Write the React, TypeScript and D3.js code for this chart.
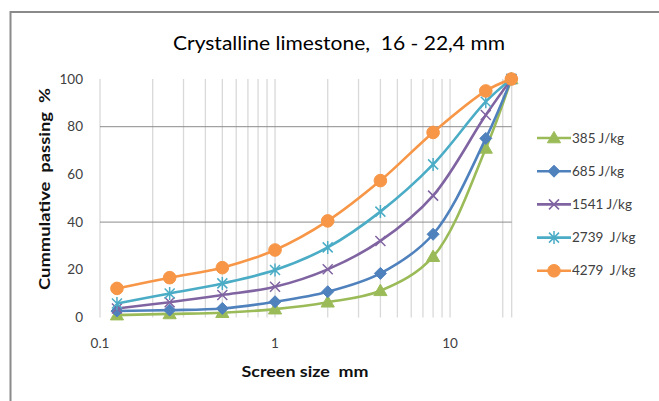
import React from "react";
import * as d3 from "d3";

// Screen sizes (mm) and cumulative passing (%) per impact energy
const sizes = [0.125, 0.25, 0.5, 1, 2, 4, 8, 16, 22.4];
const e385 = [1.0, 1.5, 2.0, 3.5, 6.4, 11.2, 25.5, 70.9, 100];
const e685 = [2.7, 3.1, 3.8, 6.6, 10.8, 18.5, 34.9, 75.1, 100];
const e1541 = [3.8, 6.4, 9.4, 12.9, 20.2, 32.1, 51.1, 84.9, 100];
const e2739 = [5.9, 10.1, 14.3, 19.9, 29.4, 44.4, 64.2, 90.5, 100];
const e4279 = [12.2, 16.7, 20.9, 28.3, 40.5, 57.4, 77.6, 95.0, 100];

const seriesNames = ["385 J/kg", "685 J/kg", "1541 J/kg", "2739  J/kg", "4279  J/kg"];
const seriesValues = [e385, e685, e1541, e2739, e4279];
const seriesColors = ["#9BBB59", "#4F81BD", "#8064A2", "#4BACC6", "#F79646"];
const seriesMarkers = ["triangle", "diamond", "cross", "star", "circle"];

const yTicks = [0, 20, 40, 60, 80, 100];
const yGrid = [40, 80];
const xTickLabels = [0.1, 1, 10];

const W = 659;
const H = 401;
const FONT = "Lato, 'Liberation Sans', sans-serif";
const PRE: React.CSSProperties = { whiteSpace: "pre" };

const x = d3.scaleLog().domain([0.1, 22.5]).range([100, 511.7]);
const y = d3.scaleLinear().domain([0, 100]).range([317.5, 79]);

function Marker({ kind, cx, cy, color }: { kind: string; cx: number; cy: number; color: string }) {
  if (kind === "circle") {
    return <circle cx={cx} cy={cy} r={6.3} fill={color} stroke={color} strokeWidth={1} />;
  }
  if (kind === "triangle") {
    const p = d3.symbol().type(d3.symbolTriangle).size(75)();
    return <path d={p || ""} transform={`translate(${cx},${cy + 1})`} fill={color} stroke={color} strokeWidth={1} />;
  }
  if (kind === "diamond") {
    const s = 6;
    return (
      <path
        d={`M${cx},${cy - s}L${cx + s},${cy}L${cx},${cy + s}L${cx - s},${cy}Z`}
        fill={color}
        stroke={color}
        strokeWidth={1}
      />
    );
  }
  const s = 5;
  const crossPath = `M${cx - s},${cy - s}L${cx + s},${cy + s}M${cx - s},${cy + s}L${cx + s},${cy - s}`;
  if (kind === "cross") {
    return <path d={crossPath} stroke={color} strokeWidth={1.5} fill="none" />;
  }
  // star: cross with a vertical bar
  return (
    <path d={`${crossPath}M${cx},${cy - 6.5}L${cx},${cy + 6.5}`} stroke={color} strokeWidth={1.5} fill="none" />
  );
}

export default function App() {
  const minorX: number[] = [];
  [0.1, 1, 10].forEach((dec) => {
    for (let k = 1; k <= 9; k++) {
      const v = dec * k;
      if (v <= 22.5) minorX.push(v);
    }
  });
  minorX.push(22.5);

  const line = d3
    .line<number>()
    .x((_, i) => x(sizes[i]))
    .y((v) => y(v))
    .curve(d3.curveCatmullRom.alpha(0.5));

  const legendY0 = 138;
  const legendStep = 33.2;

  return (
    <svg
      width={W}
      height={H}
      style={{ position: "absolute", left: 0, top: 0, background: "#fff" }}
      fontFamily={FONT}
    >
      <rect x={0} y={0} width={W} height={H} fill="#fff" />
      {/* chart frame */}
      <rect x={10.5} y={12} width={W + 20} height={H + 20} fill="none" stroke="#8a8a8a" strokeWidth={2} />

      <text x={339} y={50} textAnchor="middle" fontSize={18.5} fill="#000" style={PRE} textLength={332} lengthAdjust="spacingAndGlyphs">
        Crystalline limestone,  16 - 22,4 mm
      </text>

      {/* vertical gridlines */}
      {minorX.map((v, i) => (
        <line key={"gx" + i} x1={x(v)} x2={x(v)} y1={y(100)} y2={y(0)} stroke="#d9d9d9" strokeWidth={1.3} />
      ))}
      {/* horizontal gridlines */}
      {yGrid.map((v) => (
        <line key={"gy" + v} x1={x(0.1)} x2={x(22.5)} y1={y(v)} y2={y(v)} stroke="#8c8c8c" strokeWidth={1} />
      ))}

      {/* y tick labels */}
      {yTicks.map((v) => (
        <text key={"yt" + v} x={83} y={y(v) + 4.5} textAnchor="end" fontSize={13.5} fill="#404040">
          {v}
        </text>
      ))}
      {/* x tick labels */}
      {xTickLabels.map((v) => (
        <text key={"xt" + v} x={x(v)} y={348} textAnchor="middle" fontSize={13.5} fill="#404040">
          {v}
        </text>
      ))}

      {/* axis titles */}
      <text x={305} y={377} textAnchor="middle" fontSize={14.5} fontWeight={700} fill="#111" style={PRE} textLength={127} lengthAdjust="spacingAndGlyphs">
        Screen size  mm
      </text>
      <text
        transform="translate(50,189) rotate(-90)"
        textAnchor="middle"
        fontSize={14.5}
        fontWeight={700}
        fill="#111"
        style={PRE}
        textLength={202}
        lengthAdjust="spacingAndGlyphs"
      >
        Cummulative  passing  %
      </text>

      {/* series lines and markers */}
      {seriesValues.map((vals, si) => (
        <g key={"s" + si}>
          <path d={line(vals) || ""} fill="none" stroke={seriesColors[si]} strokeWidth={2.6} strokeLinejoin="round" />
          {vals.map((v, i) => (
            <Marker key={i} kind={seriesMarkers[si]} cx={x(sizes[i])} cy={y(v)} color={seriesColors[si]} />
          ))}
        </g>
      ))}

      {/* legend */}
      {seriesNames.map((name, si) => {
        const ly = legendY0 + si * legendStep;
        return (
          <g key={"lg" + si}>
            <line x1={537} x2={571} y1={ly} y2={ly} stroke={seriesColors[si]} strokeWidth={2.6} />
            <Marker kind={seriesMarkers[si]} cx={554} cy={ly} color={seriesColors[si]} />
            <text x={572} y={ly + 4.5} fontSize={13.5} fill="#404040" style={PRE}>
              {name}
            </text>
          </g>
        );
      })}
    </svg>
  );
}
